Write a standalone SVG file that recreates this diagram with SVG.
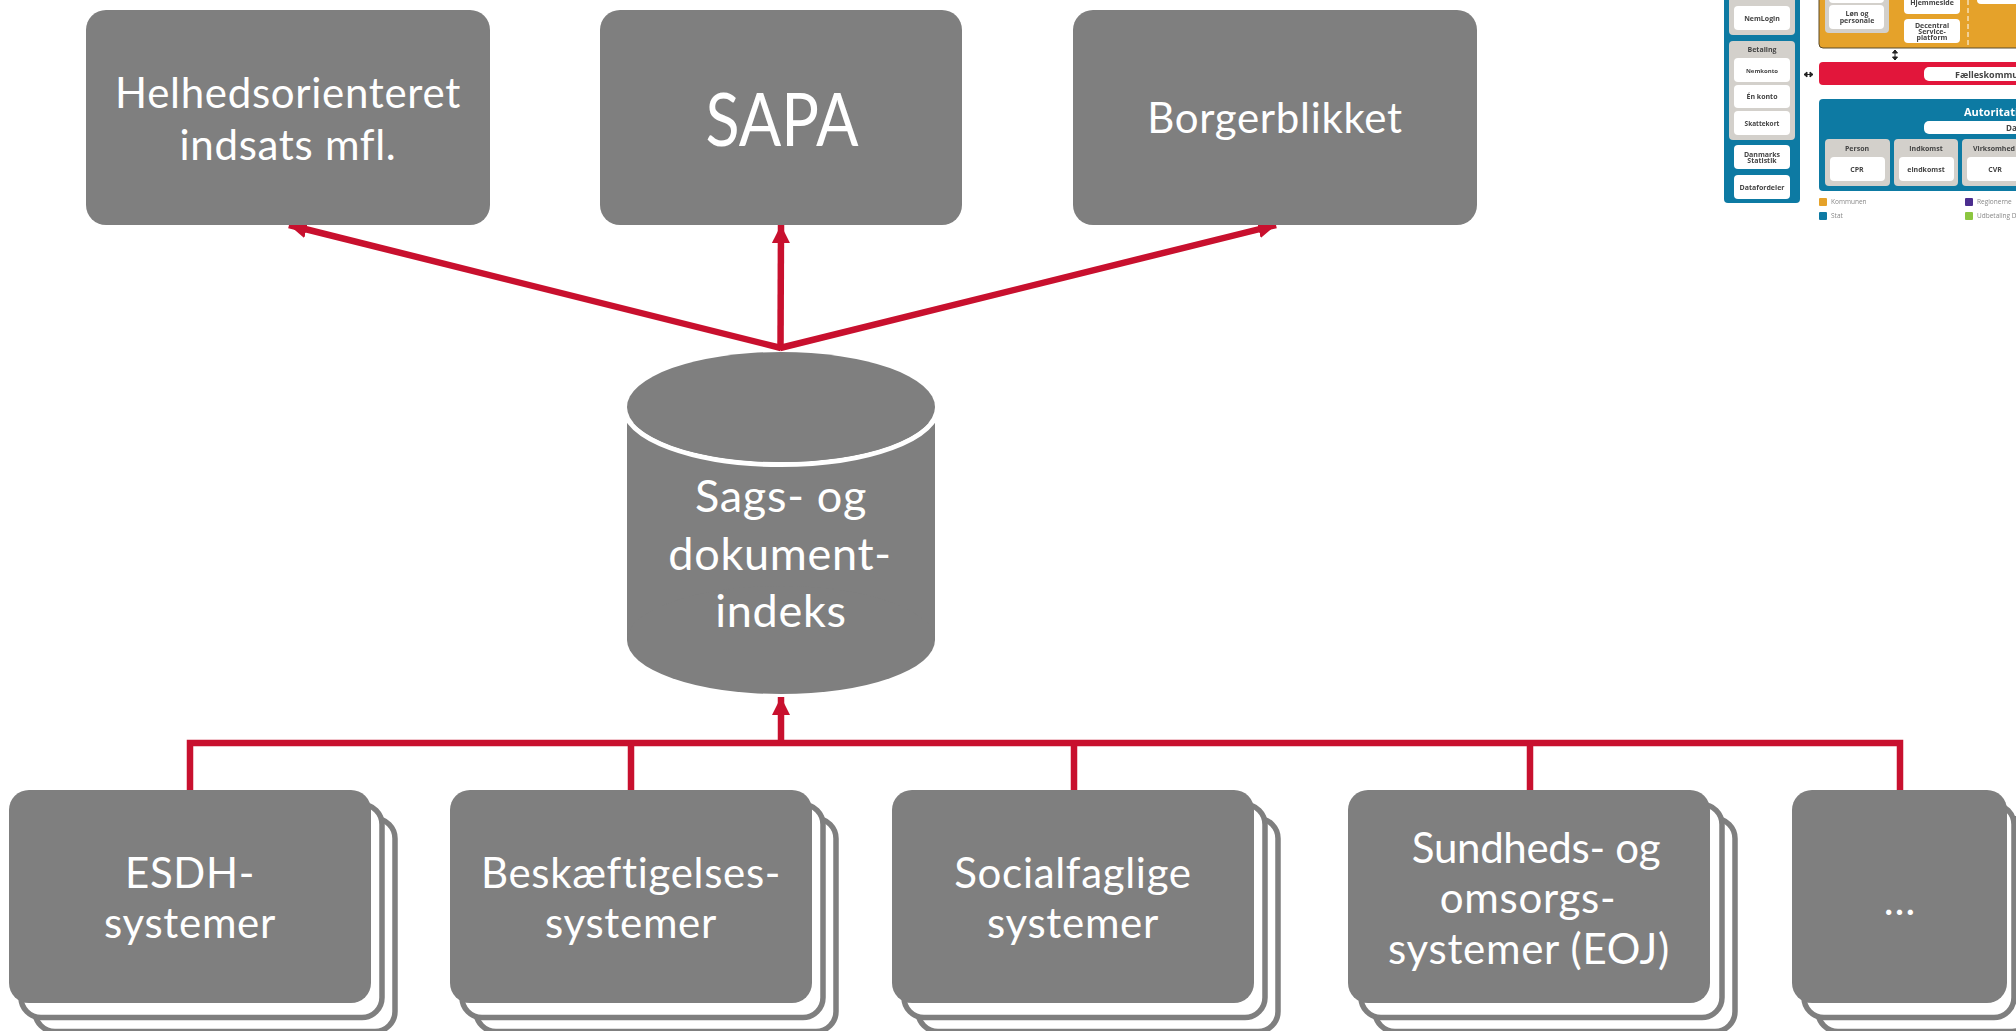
<svg xmlns="http://www.w3.org/2000/svg" width="2016" height="1031" viewBox="0 0 2016 1031">
<style>
.box{fill:#7f7f7f}
.back{fill:#fff;stroke:#7f7f7f;stroke-width:5.500}
.t{font-family:"Lato","Open Sans",sans-serif;fill:#fff;font-size:42px;letter-spacing:0.700px;text-anchor:middle}
.big{font-size:45px}
.c{fill:none;stroke:#c8102e;stroke-width:6.500}
.th{font-family:"Open Sans",sans-serif;font-weight:700;font-size:7px;text-anchor:middle;fill:#444}
.w{fill:#fff}
.g{fill:#d3d0cb}
.l{font-family:"Open Sans",sans-serif;font-size:6.500px;fill:#888}
</style>
<defs>
<marker id="a" markerUnits="userSpaceOnUse" markerWidth="20" markerHeight="20" refX="18" refY="9" orient="auto"><path d="M0 0L18 9L0 18Z" fill="#c8102e"/></marker>
<filter id="b" x="-2%" y="-2%" width="104%" height="104%"><feGaussianBlur stdDeviation="0.600"/></filter>
</defs>
<g id="connectors">
<path class="c" d="M781 348L289 225" marker-end="url(#a)"/>
<path class="c" d="M780.500 350L781 225" marker-end="url(#a)"/>
<path class="c" d="M780 348L1276 225" marker-end="url(#a)"/>
<path class="c" d="M190 790V743H1900V790M631 743V790M1074 743V790M1530 743V790"/>
<path class="c" d="M781 743V697" marker-end="url(#a)"/>
</g>
<g id="helhed"><rect class="box" x="86" y="10" width="404" height="215" rx="20"/><text class="t" x="288" y="108">Helhedsorienteret</text><text class="t" x="288" y="160">indsats mfl.</text></g>
<g id="sapa"><rect class="box" x="600" y="10" width="362" height="215" rx="20"/><text class="t" x="782" y="146" style="font-size:74px;letter-spacing:0" textLength="153" lengthAdjust="spacingAndGlyphs">SAPA</text></g>
<g id="borger"><rect class="box" x="1073" y="10" width="404" height="215" rx="20"/><text class="t" x="1275" y="133">Borgerblikket</text></g>
<g id="index">
<rect class="box" x="627" y="423" width="308" height="217"/>
<ellipse class="box" cx="781" cy="640" rx="154" ry="54"/>
<path d="M624 407A157 57.500 0 0 0 938 407" fill="none" stroke="#fff" stroke-width="5"/>
<ellipse class="box" cx="781" cy="407" rx="154" ry="55"/>
<text class="t big" x="781" y="512">Sags- og</text><text class="t big" x="780" y="570">dokument-</text><text class="t big" x="781" y="627">indeks</text>
</g>
<g id="esdh"><rect class="back" x="35" y="818.500" width="360" height="213" rx="20"/><rect class="back" x="21" y="804.500" width="361" height="213" rx="20"/><rect class="box" x="9" y="790" width="362" height="213" rx="20"/><text class="t" x="190" y="888">ESDH-</text><text class="t" x="190" y="938">systemer</text></g>
<g id="besk"><rect class="back" x="476" y="818.500" width="360" height="213" rx="20"/><rect class="back" x="462" y="804.500" width="361" height="213" rx="20"/><rect class="box" x="450" y="790" width="362" height="213" rx="20"/><text class="t" x="631" y="888">Beskæftigelses-</text><text class="t" x="631" y="938">systemer</text></g>
<g id="social"><rect class="back" x="918" y="818.500" width="360" height="213" rx="20"/><rect class="back" x="904" y="804.500" width="361" height="213" rx="20"/><rect class="box" x="892" y="790" width="362" height="213" rx="20"/><text class="t" x="1073" y="888">Socialfaglige</text><text class="t" x="1073" y="938">systemer</text></g>
<g id="sund"><rect class="back" x="1375" y="818.500" width="360" height="213" rx="20"/><rect class="back" x="1361" y="804.500" width="361" height="213" rx="20"/><rect class="box" x="1348" y="790" width="362" height="213" rx="20"/><text class="t" x="1536" y="863" style="letter-spacing:-0.300px">Sundheds- og</text><text class="t" x="1528" y="913">omsorgs-</text><text class="t" x="1529" y="964">systemer (EOJ)</text></g>
<g id="more"><rect class="back" x="1818" y="818.500" width="214" height="213" rx="20"/><rect class="back" x="1804" y="804.500" width="210" height="213" rx="20"/><rect class="box" x="1792" y="790" width="215" height="213" rx="20"/><text class="t" x="1899.500" y="915" style="letter-spacing:0">…</text></g>
<g id="thumbnail" filter="url(#b)">
<rect x="1724" y="-10" width="76" height="213" rx="4" fill="#0f7aa3"/>
<rect class="g" x="1729" y="-10" width="66" height="45" rx="4"/>
<rect class="w" x="1734" y="6" width="56" height="24" rx="4"/>
<text class="th" x="1762" y="21">NemLogin</text>
<rect class="g" x="1729" y="41" width="66" height="99" rx="4"/>
<text class="th" x="1762" y="52">Betaling</text>
<rect class="w" x="1734" y="58" width="56" height="24" rx="4"/><text class="th" x="1762" y="73" style="font-size:6px">Nemkonto</text>
<rect class="w" x="1734" y="85" width="56" height="23" rx="4"/><text class="th" x="1762" y="99">Én konto</text>
<rect class="w" x="1734" y="111" width="56" height="24" rx="4"/><text class="th" x="1762" y="126" style="font-size:6.500px">Skattekort</text>
<rect class="w" x="1734" y="145" width="56" height="24" rx="4"/><text class="th" x="1762" y="157">Danmarks</text><text class="th" x="1762" y="163">Statistik</text>
<rect class="w" x="1734" y="175" width="56" height="24" rx="4"/><text class="th" x="1762" y="190">Datafordeler</text>
<rect x="1819" y="-10" width="210" height="58" rx="4" fill="#e5a229" stroke="#5a4a2a"/>
<rect class="g" x="1825" y="-10" width="64" height="43" rx="4"/>
<rect class="w" x="1829" y="-10" width="55" height="13" rx="4"/>
<rect class="w" x="1829" y="5" width="55" height="24" rx="4"/><text class="th" x="1857" y="16">Løn og</text><text class="th" x="1857" y="23">personale</text>
<rect class="w" x="1904" y="-10" width="56" height="24" rx="4"/><text class="th" x="1932" y="5">Hjemmeside</text>
<rect class="w" x="1904" y="19" width="56" height="24" rx="4"/><text class="th" x="1932" y="28">Decentral</text><text class="th" x="1932" y="34">Service-</text><text class="th" x="1932" y="40">platform</text>
<path d="M1968 0V46" stroke="#fff" stroke-dasharray="5 3" fill="none"/>
<rect class="w" x="1977" y="-10" width="50" height="14" rx="4"/>
<path d="M1895 50V60M1892.500 53L1895 50L1897.500 53ZM1892.500 57L1895 60L1897.500 57Z" stroke="#222" fill="#222"/>
<path d="M1804 74.500H1813M1807 72L1804 74.500L1807 77ZM1810 72L1813 74.500L1810 77Z" stroke="#222" fill="#222"/>
<rect x="1819" y="62" width="210" height="23" rx="4" fill="#e2173a"/>
<rect class="w" x="1924" y="67" width="100" height="14" rx="5"/>
<text class="th" x="1955" y="78" style="font-size:9px;text-anchor:start">Fælleskommunal</text>
<rect x="1819" y="99" width="210" height="92" rx="4" fill="#0f7aa3"/>
<text class="th" x="1964" y="116" style="font-size:11px;text-anchor:start;fill:#fff">Autoritative</text>
<rect class="w" x="1924" y="121" width="100" height="13" rx="5"/>
<text class="th" x="2006" y="131" style="font-size:8px;text-anchor:start">Data</text>
<rect class="g" x="1825" y="139" width="65" height="47" rx="4"/><text class="th" x="1857" y="151">Person</text><rect class="w" x="1830" y="157" width="55" height="24" rx="4"/><text class="th" x="1857" y="172">CPR</text>
<rect class="g" x="1894" y="139" width="64" height="47" rx="4"/><text class="th" x="1926" y="151">Indkomst</text><rect class="w" x="1899" y="157" width="55" height="24" rx="4"/><text class="th" x="1926" y="172">eindkomst</text>
<rect class="g" x="1962" y="139" width="65" height="47" rx="4"/><text class="th" x="1994" y="151">Virksomhed</text><rect class="w" x="1967" y="157" width="55" height="24" rx="4"/><text class="th" x="1995" y="172">CVR</text>
<rect x="1819" y="198" width="8" height="8" rx="1" fill="#e5a229"/><text class="l" x="1831" y="204">Kommunen</text>
<rect x="1819" y="212" width="8" height="8" rx="1" fill="#0f7aa3"/><text class="l" x="1831" y="218">Stat</text>
<rect x="1965" y="198" width="8" height="8" rx="1" fill="#4b2e8f"/><text class="l" x="1977" y="204">Regionerne</text>
<rect x="1965" y="212" width="8" height="8" rx="1" fill="#8cc63f"/><text class="l" x="1977" y="218">Udbetaling Danmark</text>
</g>
</svg>
